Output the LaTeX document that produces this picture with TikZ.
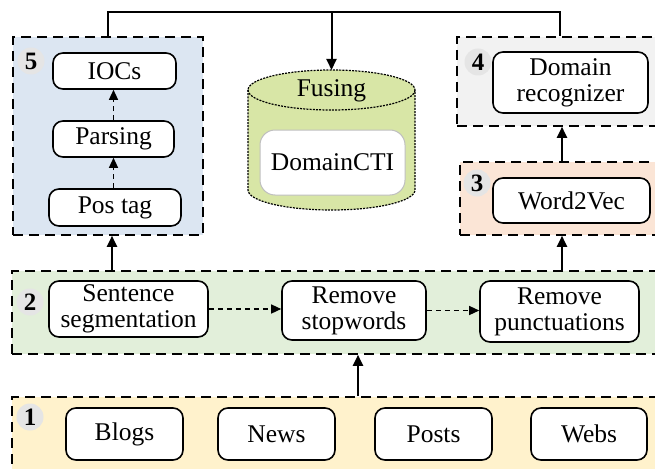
\documentclass[tikz,border=0pt]{standalone}
\usepackage{fontspec}
\setmainfont{Liberation Serif}
\usetikzlibrary{arrows.meta}
\definecolor{c5}{HTML}{DCE6F2}
\definecolor{c4}{HTML}{F2F2F2}
\definecolor{c3}{HTML}{FBE5D6}
\definecolor{c2}{HTML}{E2EFDA}
\definecolor{c1}{HTML}{FFF2CC}
\definecolor{cyl}{RGB}{216,230,166}
\begin{document}
\begin{tikzpicture}[x=1pt,y=-1pt,
  box/.style={draw, line width=1.6pt, rounded corners=10pt, fill=white, align=center, inner sep=0pt, font=\fontsize{25.5}{26}\selectfont},
  group/.style={draw, dash pattern=on 10pt off 6pt, line width=1.6pt, inner sep=0pt},
  num/.style={circle, fill=black!10, minimum size=27pt, inner sep=0pt, font=\bfseries\fontsize{25}{25}\selectfont},
  arr/.style={-{Triangle[length=11pt,width=10pt]}, line width=2pt},
  darr/.style={-{Triangle[length=10pt,width=9pt]}, line width=1.3pt, dash pattern=on 5pt off 4pt},
  lbl/.style={font=\fontsize{25.5}{26}\selectfont, inner sep=0pt}
]
\clip (0,0) rectangle (655,468);
% groups
\node[group, fill=c5, minimum width=190pt, minimum height=198pt] (g5) at (108,136) {};
\node[group, fill=c4, minimum width=213pt, minimum height=89pt] (g4) at (563.5,81.5) {};
\node[group, fill=c3, minimum width=210pt, minimum height=73pt] (g3) at (565,198.5) {};
\node[group, fill=c2, minimum width=658pt, minimum height=83pt] (g2) at (341,312.5) {};
\node[group, fill=c1, minimum width=658pt, minimum height=83pt] (g1) at (341,438.5) {};
% numbers
\node[num] (n5) at (31,61) {5};
\node[num] (n4) at (478,62) {4};
\node[num] (n3) at (477,183) {3};
\node[num] (n2) at (30,302) {2};
\node[num] (n1) at (30,417) {1};
% box 5
\node[box, minimum width=123pt, minimum height=36pt] (iocs) at (114.5,71) {IOCs};
\node[box, minimum width=121pt, minimum height=36pt] (pars) at (113.5,139) {Parsing};
\node[box, minimum width=132pt, minimum height=37pt] (pos) at (115,207.5) {Pos tag};
\draw[darr] (pos.north -| pars.south) -- (pars.south);
\draw[darr] (pars.north) -- (iocs.south -| pars.north);
% box 4, 3
\node[box, minimum width=155pt, minimum height=61pt] (dr) at (570.5,82.5) {Domain\\recognizer};
\node[box, minimum width=157pt, minimum height=45pt] (w2v) at (571.5,200.5) {Word2Vec};
% box 2
\node[box, minimum width=159pt, minimum height=56pt] (ss) at (128.5,309) {Sentence\\segmentation};
\node[box, minimum width=144pt, minimum height=59pt] (rs) at (354,310.5) {Remove\\stopwords};
\node[box, minimum width=159pt, minimum height=61pt] (rp) at (559.5,311.5) {Remove\\punctuations};
\draw[darr] (ss.east) -- (rs.west |- ss.east);
\draw[darr] (rs.east) -- (rp.west |- rs.east);
% box 1
\node[box, minimum width=117pt, minimum height=52pt] (blogs) at (124.5,434) {Blogs};
\node[box, minimum width=117pt, minimum height=52pt] (news) at (276.5,434) {News};
\node[box, minimum width=117pt, minimum height=52pt] (posts) at (433.5,434) {Posts};
\node[box, minimum width=116pt, minimum height=52pt] (webs) at (589,434) {Webs};
% cylinder
\path[fill=cyl, draw, line width=1.2pt, dash pattern=on 2pt off 1.2pt]
  (248,90) -- (248,190) arc[start angle=180, end angle=0, x radius=83.5, y radius=20]
  -- (415,90) arc[start angle=0, end angle=-180, x radius=83.5, y radius=20] -- cycle;
\draw[line width=1.2pt, dash pattern=on 2pt off 1.2pt] (248,90) arc[start angle=180, end angle=0, x radius=83.5, y radius=20];
\coordinate (cyltop) at (331.5,70);
\node[lbl] (fus) at (331.5,91) {Fusing};
\node[box, draw=black!25, line width=1pt, rounded corners=15pt, minimum width=145pt, minimum height=65pt] (cti) at (332.5,162.5) {DomainCTI};
% connectors
\coordinate (tl) at (108,12);
\coordinate (tr) at (560,12);
\coordinate (tm) at (331.5,12);
\coordinate (xa) at (112,0);
\coordinate (xb) at (562,0);
\coordinate (xc) at (358,0);
\draw[line width=2pt] (g5.north -| tl) -- (tl) -- (tr) -- (g4.north -| tr);
\draw[arr] (tm) -- (cyltop);
\draw[arr] (g2.north -| xa) -- (g5.south -| xa);
\draw[arr] (g2.north -| xb) -- (g3.south -| xb);
\draw[arr] (g3.north -| xb) -- (g4.south -| xb);
\draw[arr] (g1.north -| xc) -- (g2.south -| xc);
\end{tikzpicture}
\end{document}
